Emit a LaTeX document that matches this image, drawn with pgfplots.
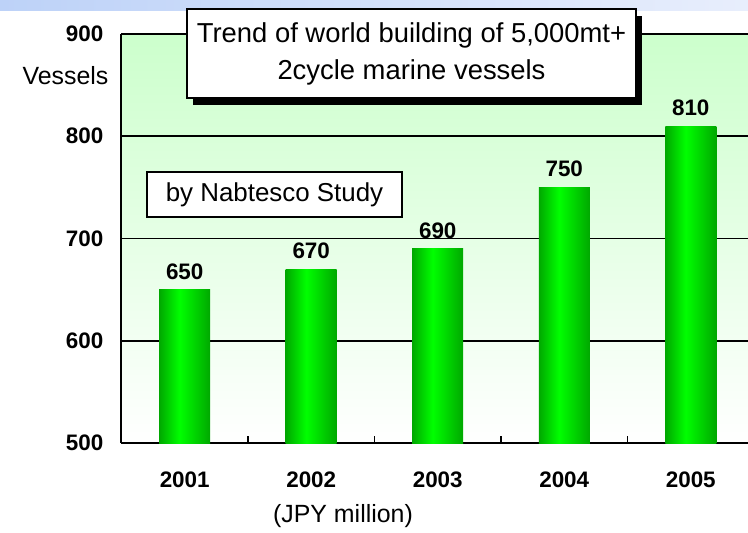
\documentclass[border=0pt]{standalone}
\usepackage{fontspec}
\setmainfont{Liberation Sans}
\usepackage{pgfplots}
\pgfplotsset{compat=1.18}
\usetikzlibrary{shadows}
\definecolor{bgtop}{RGB}{204,255,204}
\definecolor{bardark}{RGB}{0,168,0}
\definecolor{barlight}{RGB}{0,255,0}
\definecolor{bandl}{RGB}{189,210,248}
\definecolor{bandr}{RGB}{232,238,252}
\pgfdeclarehorizontalshading{barshade}{100bp}{color(0bp)=(bardark); color(25bp)=(bardark); color(45bp)=(barlight); color(75bp)=(bardark); color(100bp)=(bardark)}
\pgfplotsset{gbar/.style={ybar, bar width=51bp, draw=none, shade, shading=barshade,
  nodes near coords,
  nodes near coords style={font=\bfseries\fontsize{22.5}{22.5}\selectfont, black, anchor=south, inner sep=0pt, yshift=10bp}}}
\begin{document}
\begin{tikzpicture}[x=1bp,y=1bp]
\useasboundingbox (0,0) rectangle (748,533);
\fill[white] (0,0) rectangle (748,533);
\shade[left color=bandl, right color=bandr] (0,522) rectangle (748,533);
\begin{axis}[at={(96,88)}, anchor=south west, scale only axis,
  width=628bp, height=409bp,
  xmin=-0.5, xmax=4.464, ymin=500, ymax=900,
  axis x line=bottom, axis y line=left,
  axis line style={-, black, line width=2bp},
  xtick={0,1,2,3,4}, xticklabels={2001,2002,2003,2004,2005},
  minor xtick={0.5,1.5,2.5,3.5},
  ytick={500,600,700,800,900},
  major tick length=0pt, minor tick length=7bp, tick align=inside,
  minor tick style={black, line width=1.2bp},
  ymajorgrids, major grid style={black, line width=1.6bp},
  ticklabel style={font=\bfseries\fontsize{22.5}{22.5}\selectfont},
  /pgf/number format/assume math mode=true,
  yticklabel style={anchor=east, inner sep=0pt, xshift=-18bp},
  xticklabel style={anchor=north, inner sep=0pt, yshift=-29bp},
  axis background/.style={top color=bgtop, bottom color=white},
  clip=true]
\addplot[gbar] coordinates {(0,650)};
\addplot[gbar] coordinates {(1,670)};
\addplot[gbar] coordinates {(2,690)};
\addplot[gbar] coordinates {(3,750)};
\addplot[gbar] coordinates {(4,810)};
\end{axis}
\node[draw=black, line width=1.3bp, fill=white,
  drop shadow={fill=black, opacity=1, shadow xshift=6bp, shadow yshift=-7bp},
  minimum width=449bp, minimum height=89bp, inner sep=0pt, align=center,
  font=\fontsize{27.5}{37}\selectfont] at (411.5,479.5)
  {Trend of world building of 5,000mt+\\2cycle marine vessels};
\node[draw=black, line width=1.3bp, fill=white, minimum width=255bp, minimum height=45bp,
  inner sep=0pt, font=\fontsize{26}{26}\selectfont] at (274.5,338.5) {by Nabtesco Study};
\node[font=\fontsize{25}{25}\selectfont] at (65.5,457) {Vessels};
\node[font=\fontsize{25}{25}\selectfont] at (343,16.5) {(JPY million)};
\end{tikzpicture}
\end{document}
